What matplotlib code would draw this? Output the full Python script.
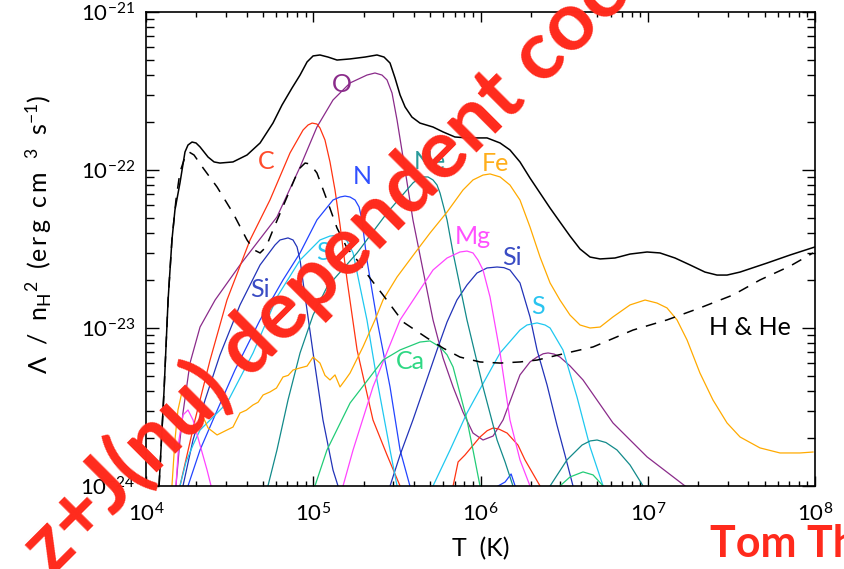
#!/usr/bin/env python3
"""
Metal-line cooling rates per element, with the total and the H & He
contribution, on log-log axes (Lambda / n_H^2 against T).
"""

import numpy as np
import matplotlib
matplotlib.use("Agg")
import matplotlib.pyplot as plt
from matplotlib.ticker import LogLocator, NullFormatter

# ============================================================
# DATA  (log10 T [K], log10 Lambda/n_H^2 [erg cm^3 s^-1])
# ============================================================

total_logT = [4.078, 4.108, 4.132, 4.155, 4.173, 4.203, 4.233, 4.251, 4.275, 4.299,
              4.323, 4.371, 4.407, 4.442, 4.520, 4.604, 4.682, 4.759, 4.813, 4.873,
              4.921, 4.963, 4.999, 5.040, 5.088, 5.142, 5.220, 5.310, 5.381, 5.423,
              5.459, 5.489, 5.519, 5.549, 5.590, 5.638, 5.716, 5.776, 5.847, 5.919,
              6.039, 6.117, 6.176, 6.236, 6.296, 6.356, 6.416, 6.475, 6.535, 6.595,
              6.655, 6.715, 6.804, 6.894, 6.996, 7.073, 7.163, 7.253, 7.342, 7.414,
              7.474, 7.552, 7.713, 7.851, 8.0]
total_logL = [-24.0, -23.392, -22.823, -22.443, -22.253, -22.082, -21.886, -21.842, -21.823, -21.829,
              -21.854, -21.918, -21.949, -21.956, -21.949, -21.905, -21.829, -21.703, -21.589, -21.481,
              -21.399, -21.316, -21.278, -21.272, -21.285, -21.304, -21.297, -21.285, -21.272, -21.285,
              -21.323, -21.418, -21.525, -21.601, -21.665, -21.703, -21.728, -21.759, -21.791, -21.797,
              -21.797, -21.829, -21.873, -21.949, -22.051, -22.146, -22.241, -22.329, -22.418, -22.500,
              -22.551, -22.563, -22.557, -22.532, -22.519, -22.525, -22.557, -22.601, -22.646, -22.665,
              -22.665, -22.646, -22.589, -22.538, -22.487]

hhe_logT = [4.078, 4.108, 4.132, 4.155, 4.179, 4.203, 4.233, 4.257, 4.287, 4.341,
            4.425, 4.520, 4.604, 4.646, 4.682, 4.718, 4.759, 4.843, 4.891, 4.921,
            4.951, 4.981, 5.022, 5.082, 5.142, 5.202, 5.262, 5.339, 5.417, 5.537,
            5.680, 5.776, 5.877, 5.997, 6.117, 6.236, 6.338, 6.517, 6.673, 6.912,
            7.115, 7.312, 7.510, 7.671, 7.851, 7.988]
hhe_logL = [-24.0, -23.392, -22.823, -22.443, -22.190, -22.013, -21.918, -21.886, -21.905, -21.987,
            -22.108, -22.272, -22.443, -22.506, -22.525, -22.487, -22.380, -22.171, -22.051, -21.987,
            -21.956, -21.962, -22.019, -22.190, -22.367, -22.494, -22.570, -22.684, -22.791, -22.962,
            -23.063, -23.127, -23.184, -23.215, -23.222, -23.215, -23.203, -23.158, -23.120, -23.013,
            -22.949, -22.873, -22.791, -22.696, -22.608, -22.525]

carbon_logT = [4.203, 4.293, 4.383, 4.484, 4.622, 4.741, 4.861, 4.939, 4.969, 4.993,
               5.022, 5.040, 5.070, 5.100, 5.130, 5.160, 5.202, 5.262, 5.357, 5.441,
               5.519]
carbon_logL = [-24.0, -23.582, -23.203, -22.823, -22.443, -22.190, -21.892, -21.747, -21.715, -21.703,
               -21.709, -21.734, -21.810, -21.949, -22.127, -22.348, -22.696, -23.139, -23.582, -23.804,
               -24.0]
carbon2_logT = [5.836, 5.866, 5.907, 5.997, 6.040, 6.075, 6.110, 6.159, 6.224, 6.266,
                6.356]
carbon2_logL = [-24.0, -23.848, -23.804, -23.690, -23.650, -23.633, -23.640, -23.665, -23.741, -23.835,
                -24.0]

oxygen_logT = [4.179, 4.203, 4.221, 4.263, 4.323, 4.413, 4.562, 4.783, 4.921, 5.022,
               5.118, 5.220, 5.321, 5.369, 5.411, 5.441, 5.471, 5.501, 5.549, 5.596,
               5.656, 5.716, 5.776, 5.836, 5.895, 5.955, 6.015, 6.075, 6.135, 6.236,
               6.296, 6.338, 6.375, 6.404, 6.440, 6.475, 6.535, 6.613, 6.792, 6.996,
               7.223]
oxygen_logL = [-24.0, -23.709, -23.538, -23.222, -22.994, -22.823, -22.601, -22.297, -21.981, -21.728,
               -21.557, -21.449, -21.399, -21.386, -21.399, -21.430, -21.513, -21.684, -22.0, -22.316,
               -22.633, -22.949, -23.190, -23.373, -23.532, -23.665, -23.709, -23.684, -23.582, -23.297,
               -23.215, -23.184, -23.163, -23.158, -23.165, -23.184, -23.240, -23.329, -23.601, -23.816,
               -24.0]

nitrogen_logT = [4.251, 4.323, 4.413, 4.532, 4.682, 4.819, 4.921, 5.022, 5.118, 5.160,
                 5.190, 5.220, 5.250, 5.274, 5.291, 5.321, 5.381, 5.459, 5.519, 5.578]
nitrogen_logL = [-24.0, -23.772, -23.551, -23.266, -22.949, -22.696, -22.525, -22.316, -22.190, -22.171,
                 -22.165, -22.171, -22.190, -22.234, -22.316, -22.570, -22.949, -23.373, -23.772, -24.0]
nitrogen2_logT = [6.105, 6.147, 6.183, 6.207]
nitrogen2_logL = [-24.0, -23.975, -23.924, -24.0]

neon_logT = [4.729, 4.783, 4.849, 4.921, 4.999, 5.082, 5.262, 5.441, 5.596, 5.626,
             5.656, 5.686, 5.716, 5.740, 5.758, 5.800, 5.836, 5.919, 6.015, 6.099,
             6.147, 6.194]
neon_logL = [-24.0, -23.772, -23.456, -23.158, -22.918, -22.741, -22.525, -22.272, -22.082, -22.057,
             -22.044, -22.044, -22.063, -22.095, -22.146, -22.316, -22.525, -22.949, -23.373, -23.709,
             -23.848, -24.0]
neon2_logT = [6.416, 6.517, 6.607, 6.655, 6.697, 6.750, 6.816, 6.894, 6.972]
neon2_logL = [-24.0, -23.835, -23.741, -23.715, -23.709, -23.725, -23.772, -23.867, -24.0]

magnesium_logT = [4.179, 4.197, 4.221, 4.251, 4.281, 4.323, 4.365, 4.389]
magnesium_logL = [-24.0, -23.709, -23.551, -23.519, -23.582, -23.741, -23.899, -24.0]
magnesium2_logT = [5.178, 5.238, 5.357, 5.519, 5.716, 5.800, 5.877, 5.919, 5.955, 5.985,
                   6.015, 6.057, 6.117, 6.176, 6.236, 6.296]
magnesium2_logL = [-24.0, -23.772, -23.373, -22.949, -22.633, -22.557, -22.519, -22.513, -22.525, -22.570,
                   -22.633, -22.804, -23.158, -23.582, -23.835, -24.0]

silicon_logT = [4.221, 4.281, 4.353, 4.442, 4.562, 4.682, 4.771, 4.801, 4.849, 4.879,
                4.903, 4.921, 4.939, 4.999, 5.058, 5.118, 5.148]
silicon_logL = [-24.0, -23.709, -23.456, -23.171, -22.854, -22.601, -22.475, -22.443, -22.430, -22.443,
                -22.487, -22.570, -22.709, -23.158, -23.582, -23.899, -24.0]
silicon2_logT = [5.459, 5.519, 5.596, 5.668, 5.740, 5.800, 5.859, 5.919, 5.979, 6.039,
                 6.099, 6.140, 6.176, 6.236, 6.296, 6.338, 6.398, 6.457, 6.505, 6.553]
silicon2_logL = [-24.0, -23.804, -23.582, -23.361, -23.139, -22.962, -22.823, -22.728, -22.652, -22.620,
                 -22.614, -22.618, -22.633, -22.715, -22.930, -23.139, -23.361, -23.614, -23.804, -24.0]

sulphur_logT = [4.203, 4.239, 4.281, 4.323, 4.413, 4.484, 4.640, 4.783, 4.921, 5.040,
                5.100, 5.160, 5.202, 5.238, 5.280, 5.321, 5.381, 5.459, 5.501]
sulphur_logL = [-24.0, -23.848, -23.741, -23.646, -23.551, -23.475, -23.158, -22.804, -22.570, -22.443,
                -22.418, -22.411, -22.449, -22.525, -22.741, -22.949, -23.329, -23.772, -24.0]
sulphur2_logT = [5.716, 5.818, 5.919, 6.027, 6.117, 6.236, 6.278, 6.338, 6.386, 6.416,
                 6.493, 6.577, 6.655, 6.733]
sulphur2_logL = [-24.0, -23.772, -23.538, -23.329, -23.158, -23.013, -22.981, -22.968, -22.981, -23.0,
                 -23.139, -23.437, -23.753, -24.0]

calcium_logT = [5.010, 5.082, 5.220, 5.417, 5.519, 5.638, 5.698, 5.758, 5.800, 5.836,
                5.919, 5.955, 5.997]
calcium_logL = [-24.0, -23.772, -23.475, -23.203, -23.139, -23.089, -23.082, -23.120, -23.170, -23.247,
                -23.582, -23.772, -24.0]
calcium2_logT = [6.475, 6.535, 6.613, 6.673, 6.733]
calcium2_logL = [-24.0, -23.943, -23.911, -23.930, -24.0]

iron_logT = [4.155, 4.173, 4.191, 4.215, 4.245, 4.281, 4.323, 4.371, 4.425, 4.472,
             4.520, 4.562, 4.600, 4.640, 4.670, 4.700, 4.741, 4.780, 4.819, 4.850,
             4.879, 4.921, 4.963, 4.999, 5.040, 5.070, 5.100, 5.130, 5.160, 5.190,
             5.220, 5.297, 5.369, 5.417, 5.501, 5.608, 5.698, 5.800, 5.895, 5.955,
             6.015, 6.057, 6.117, 6.176, 6.236, 6.296, 6.356, 6.416, 6.475, 6.535,
             6.595, 6.655, 6.715, 6.792, 6.894, 6.984, 7.055, 7.115, 7.175, 7.235,
             7.312, 7.390, 7.474, 7.552, 7.671, 7.791, 7.910, 7.988]
iron_logL = [-24.0, -23.709, -23.519, -23.405, -23.380, -23.443, -23.519, -23.633, -23.677, -23.652,
             -23.627, -23.538, -23.520, -23.487, -23.470, -23.424, -23.405, -23.380, -23.310, -23.300,
             -23.266, -23.253, -23.241, -23.184, -23.222, -23.300, -23.329, -23.297, -23.373, -23.330,
             -23.285, -23.120, -22.949, -22.823, -22.677, -22.525, -22.399, -22.266, -22.127, -22.063,
             -22.032, -22.025, -22.044, -22.095, -22.190, -22.361, -22.551, -22.715, -22.823, -22.918,
             -22.981, -23.0, -22.994, -22.930, -22.854, -22.823, -22.842, -22.873, -22.949, -23.076,
             -23.285, -23.456, -23.601, -23.690, -23.759, -23.791, -23.791, -23.785]

# (name, colour, [(logT, logL), ...])
ELEMENT_CURVES = [
    ("O", "#8a2b8a", [(oxygen_logT, oxygen_logL)]),
    ("C", "#ff3311", [(carbon_logT, carbon_logL), (carbon2_logT, carbon2_logL)]),
    ("N", "#2244ff", [(nitrogen_logT, nitrogen_logL), (nitrogen2_logT, nitrogen2_logL)]),
    ("Si", "#2233b8", [(silicon_logT, silicon_logL), (silicon2_logT, silicon2_logL)]),
    ("S", "#1fc8f0", [(sulphur_logT, sulphur_logL), (sulphur2_logT, sulphur2_logL)]),
    ("Ne", "#128a8a", [(neon_logT, neon_logL), (neon2_logT, neon2_logL)]),
    ("Mg", "#ff44ff", [(magnesium_logT, magnesium_logL), (magnesium2_logT, magnesium2_logL)]),
    ("Ca", "#22cc77", [(calcium_logT, calcium_logL), (calcium2_logT, calcium2_logL)]),
    ("Fe", "#ffaa00", [(iron_logT, iron_logL)]),
]

# curve labels: text, colour, log T, log Lambda
LABELS = [
    ("O", "#8a2b8a", 5.172, -21.462),
    ("C", "#ff4a2a", 4.717, -21.949),
    ("N", "#3050ff", 5.291, -22.044),
    ("Ne", "#2a9a9a", 5.698, -21.949),
    ("Fe", "#ffae1a", 6.087, -21.956),
    ("Mg", "#ff50ff", 5.955, -22.424),
    ("Si", "#3a4cc4", 6.188, -22.551),
    ("S", "#2ac4f0", 6.344, -22.867),
    ("Si", "#3a4cc4", 4.682, -22.759),
    ("S", "#2ac4f0", 5.058, -22.525),
    ("Ca", "#2ed884", 5.578, -23.215),
    ("H & He", "black", 7.611, -23.0),
]

AXIS_FONT = ["Lato", "DejaVu Sans"]
RED = "#ff2a1c"
THIN = "\u2009"


def curve(logT, logL):
    return 10.0 ** np.asarray(logT), 10.0 ** np.asarray(logL)


def spaced(word):
    return THIN.join(word)


# ============================================================
# PLOT
# ============================================================

def main():

    plt.rcParams["font.family"] = AXIS_FONT
    plt.rcParams["mathtext.default"] = "regular"

    fig = plt.figure(figsize=(8.45, 5.69), dpi=100)
    ax = fig.add_axes([0.1728, 0.1459, 0.7917, 0.8330])

    for name, color, pieces in ELEMENT_CURVES:
        for logT, logL in pieces:
            ax.plot(*curve(logT, logL), color=color, lw=0.9)

    ax.plot(*curve(hhe_logT, hhe_logL), color="black", lw=1.1,
            linestyle=(0, (7, 6)))
    ax.plot(*curve(total_logT, total_logL), color="black", lw=1.1)

    for text, color, lt, ll in LABELS:
        ax.text(10 ** lt, 10 ** ll, text, color=color, fontsize=18,
                ha="center", va="center")

    ax.set_xscale("log")
    ax.set_yscale("log")
    ax.set_xlim(1e4, 1e8)
    ax.set_ylim(1e-24, 1e-21)

    ax.xaxis.set_major_locator(LogLocator(base=10, numticks=10))
    ax.yaxis.set_major_locator(LogLocator(base=10, numticks=10))
    for axis in (ax.xaxis, ax.yaxis):
        axis.set_minor_locator(LogLocator(base=10, subs=np.arange(2, 10), numticks=20))
        axis.set_minor_formatter(NullFormatter())

    ax.tick_params(which="both", direction="in", top=True, right=True,
                   color="black", width=1.0, labelsize=16)
    ax.tick_params(axis="x", which="major", length=7, pad=12)
    ax.tick_params(axis="x", which="minor", length=3.5)
    ax.tick_params(axis="y", which="major", length=9.5, pad=8)
    ax.tick_params(axis="y", which="minor", length=6)
    for spine in ax.spines.values():
        spine.set_linewidth(1.2)

    ax.set_xlabel("T  (K)", fontsize=18, va="center")
    ax.xaxis.set_label_coords(0.5, -0.133)

    ylabel = (r"$\Lambda$  /  n$_H$$^2$  (" + spaced("erg") + "  "
              + spaced("cm") + r"  $^3$  s$^{-1}$)")
    ax.set_ylabel(ylabel, fontsize=18, va="center")
    ax.yaxis.set_label_coords(-0.160, 0.53)

    # red overlay text
    fig.text(0.062, -0.014, "z+J(nu) dependent cooling", color=RED,
             fontsize=59, fontweight="bold", family=["Lato", "DejaVu Sans"],
             rotation=45, rotation_mode="anchor", ha="left", va="baseline")
    fig.text(0.840, 0.021, "Tom Theuns", color=RED, fontsize=31,
             fontweight="bold", family=["Lato", "DejaVu Sans"],
             ha="left", va="baseline")

    fig.savefig("out.png", dpi=100)
    plt.close(fig)


if __name__ == "__main__":
    main()
